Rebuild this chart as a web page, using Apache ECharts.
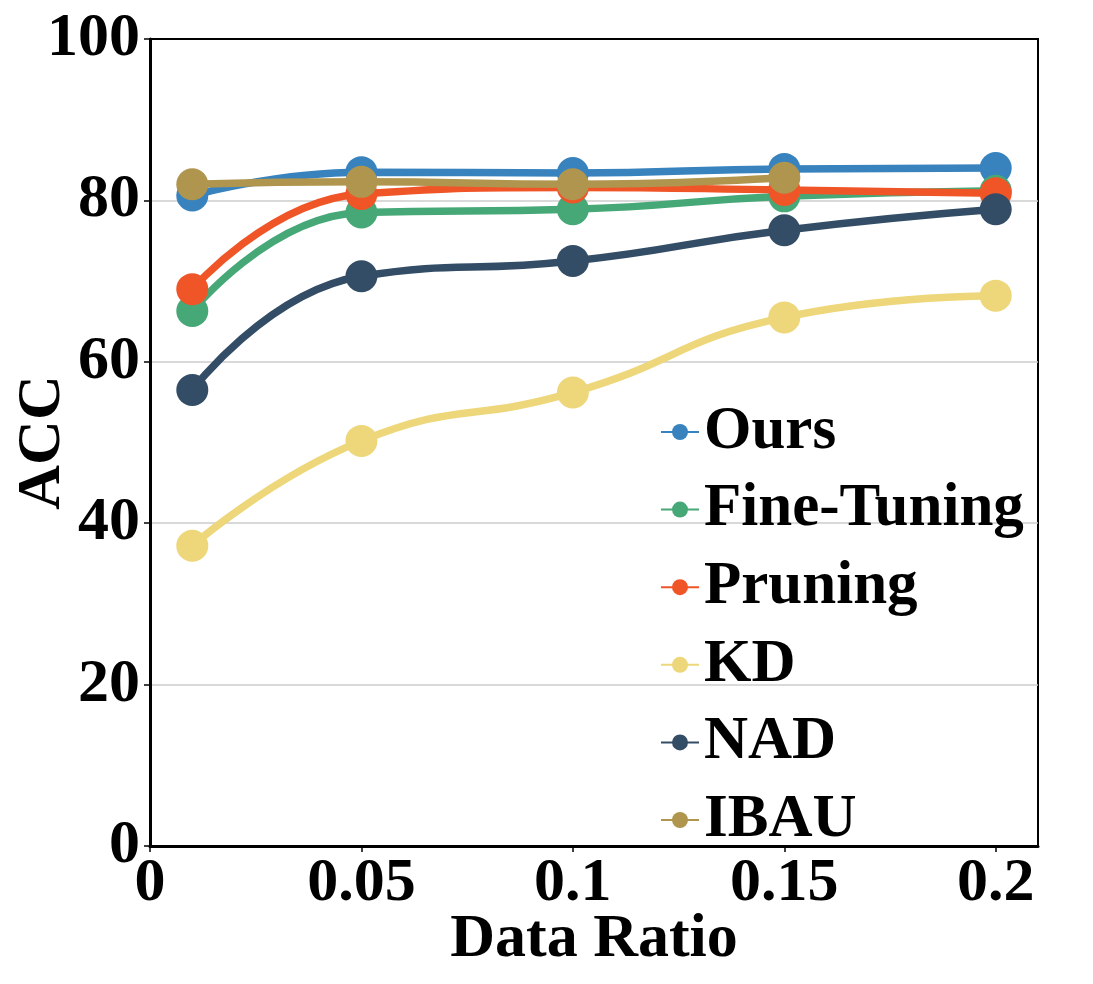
<!DOCTYPE html>
<html>
<head>
<meta charset="utf-8">
<script src="https://cdn.jsdelivr.net/npm/echarts@6/dist/echarts.min.js"></script>
<style>
  html, body { margin: 0; padding: 0; background: #fff; }
  #chart { width: 1093px; height: 984px; }
</style>
</head>
<body>
<div id="chart"></div>
<script>
const xRatios = [0.01, 0.05, 0.1, 0.15, 0.2];
const xTicks = [0, 0.05, 0.1, 0.15, 0.2];
const seriesNames = ['Ours', 'Fine-Tuning', 'Pruning', 'KD', 'NAD', 'IBAU'];
const ours = [80.6, 83.5, 83.4, 83.9, 84.0];
const fineTuning = [66.3, 78.5, 78.9, 80.5, 81.2];
const pruning = [69.0, 80.8, 81.6, 81.3, 80.9];
const kd = [37.2, 50.2, 56.2, 65.5, 68.2];
const nad = [56.5, 70.6, 72.5, 76.3, 78.9];
const ibau = [82.0, 82.3, 82.0, 82.8];
const colors = ['#3883be', '#46a877', '#f05528', '#eed77a', '#344d66', '#b0954e'];
const valuesList = [ours, fineTuning, pruning, kd, nad, ibau];

const font = 'Liberation Serif, Times New Roman, serif';
const chart = echarts.init(document.getElementById('chart'), null, { renderer: 'canvas' });

const series = seriesNames.map((name, i) => ({
  name: name,
  type: 'line',
  smooth: 0.5,
  symbol: 'circle',
  symbolSize: 32,
  data: valuesList[i].map((v, j) => [xRatios[j], v]),
  lineStyle: { width: 7.5, color: colors[i] },
  itemStyle: { color: colors[i] },
  emphasis: { disabled: true },
  z: 2 + i
}));

chart.setOption({
  backgroundColor: '#ffffff',
  animation: false,
  color: colors,
  grid: {
    left: 150, right: 55, top: 39, bottom: 138,
    containLabel: false,
    outerBoundsMode: 'none',
    show: true, borderColor: '#000', borderWidth: 2, backgroundColor: 'transparent'
  },
  legend: {
    orient: 'vertical',
    left: 655,
    top: 396,
    itemWidth: 38,
    itemHeight: 20,
    itemGap: 15.6,
    data: seriesNames,
    lineStyle: { width: 2 },
    textStyle: { fontFamily: font, fontWeight: 'bold', fontSize: 61, color: '#000', lineHeight: 62 }
  },
  xAxis: {
    type: 'value',
    min: 0, max: 0.21, interval: 0.05,
    name: 'Data Ratio',
    nameLocation: 'middle',
    nameGap: 63,
    nameMoveOverlap: false,
    nameTextStyle: { fontFamily: font, fontWeight: 'bold', fontSize: 62, color: '#000' },
    axisLine: { show: true, onZero: false, lineStyle: { color: '#000', width: 3 } },
    axisTick: { show: true, length: 6, lineStyle: { color: '#000', width: 1.5 }, customValues: xTicks },
    axisLabel: { fontFamily: font, fontWeight: 'bold', fontSize: 62, color: '#000', margin: 7, customValues: xTicks },
    splitLine: { show: false }
  },
  yAxis: {
    type: 'value',
    min: 0, max: 100, interval: 20,
    name: 'ACC',
    nameLocation: 'middle',
    nameGap: 76,
    nameMoveOverlap: false,
    nameTextStyle: { fontFamily: font, fontWeight: 'bold', fontSize: 62, color: '#000' },
    axisLine: { show: true, onZero: false, lineStyle: { color: '#000', width: 3 } },
    axisTick: { show: true, length: 6, lineStyle: { color: '#000', width: 1.5 } },
    axisLabel: { fontFamily: font, fontWeight: 'bold', fontSize: 62, color: '#000', margin: 10 },
    splitLine: { show: true, showMinLine: false, showMaxLine: false, lineStyle: { color: '#cccccc', width: 1.5 } }
  },
  series: series
});
</script>
</body>
</html>
